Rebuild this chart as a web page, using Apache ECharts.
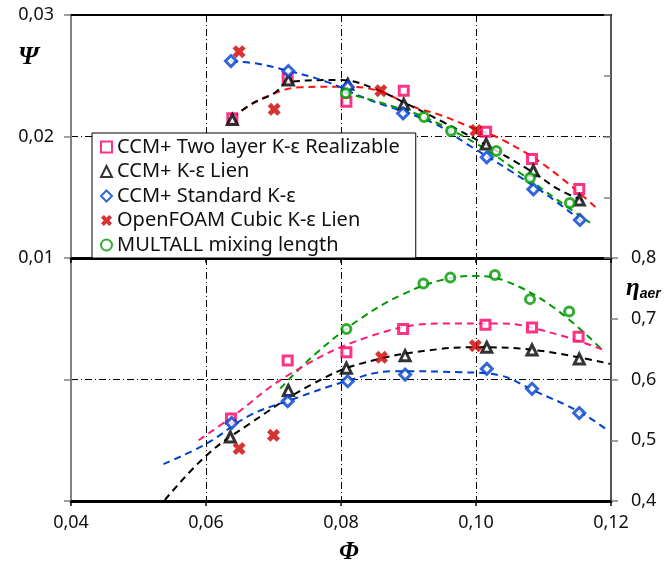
<!DOCTYPE html>
<html>
<head>
<meta charset="utf-8">
<script src="https://cdn.jsdelivr.net/npm/echarts@6/dist/echarts.min.js"></script>
<style>
  html, body { margin: 0; padding: 0; background: #fff; }
  #chart { width: 665px; height: 567px; }
</style>
</head>
<body>
<div id="chart"></div>
<script>
// legend names
const names = [
  'CCM+ Two layer K-ε Realizable',
  'CCM+ K-ε Lien',
  'CCM+ Standard K-ε',
  'OpenFOAM Cubic K-ε Lien',
  'MULTALL mixing length'
]

// head coefficient Psi, [Phi, Psi]
const psiTwoLayer = [[0.0639, 0.0215], [0.0721, 0.0248], [0.0808, 0.02286], [0.0893, 0.02377], [0.1015, 0.0204], [0.1083, 0.01815], [0.1153, 0.01568]]
const psiLien = [[0.0639, 0.0214], [0.0722, 0.02465], [0.0810, 0.0243], [0.0893, 0.02267], [0.1015, 0.01938], [0.1085, 0.01719], [0.1153, 0.01477]]
const psiStandard = [[0.0637, 0.02621], [0.0722, 0.02539], [0.0810, 0.02407], [0.0892, 0.02191], [0.1016, 0.01829], [0.1085, 0.01565], [0.1154, 0.01313]]
const psiOpenFoam = [[0.0649, 0.02698], [0.0701, 0.02224], [0.0859, 0.02377], [0.1000, 0.0205]]
const psiMultall = [[0.0807, 0.02356], [0.0923, 0.0216], [0.0963, 0.02045], [0.1030, 0.01881], [0.1080, 0.01658], [0.1139, 0.01453]]

// efficiency eta_aer, [Phi, eta]
const etaTwoLayer = [[0.0637, 0.5356], [0.0721, 0.6311], [0.0808, 0.6448], [0.0892, 0.6831], [0.1014, 0.6902], [0.1083, 0.6857], [0.1152, 0.6705]]
const etaLien = [[0.0636, 0.5054], [0.0722, 0.5820], [0.0808, 0.6186], [0.0895, 0.6393], [0.1016, 0.6530], [0.1083, 0.6487], [0.1153, 0.6339]]
const etaStandard = [[0.0638, 0.5284], [0.0721, 0.5644], [0.0810, 0.5972], [0.0895, 0.6082], [0.1016, 0.6175], [0.1083, 0.5847], [0.1153, 0.5448]]
const etaOpenFoam = [[0.0649, 0.4864], [0.0700, 0.5082], [0.0860, 0.6366], [0.0999, 0.6557]]
const etaMultall = [[0.0808, 0.6831], [0.0922, 0.7579], [0.0962, 0.7677], [0.1028, 0.7721], [0.1080, 0.7323], [0.1138, 0.7120]]

// trend lines
const psiFitRed = [[0.0639, 0.0215], [0.0655, 0.0222], [0.0690, 0.0233], [0.0739, 0.02405], [0.0800, 0.0241], [0.0853, 0.0238], [0.0907, 0.02245], [0.0947, 0.02177], [0.0991, 0.0208], [0.1040, 0.0197], [0.1105, 0.0175], [0.1179, 0.0141]]
const psiFitBlack = [[0.0639, 0.0215], [0.0665, 0.0226], [0.0702, 0.0236], [0.0722, 0.0245], [0.0800, 0.02465], [0.0847, 0.0240], [0.0897, 0.0227], [0.0951, 0.0212], [0.1015, 0.0193], [0.1083, 0.0171], [0.1124, 0.0156], [0.1164, 0.0146]]
const psiFitBlue = [[0.0637, 0.0262], [0.0675, 0.0260], [0.0722, 0.0254], [0.0779, 0.0245], [0.0838, 0.0231], [0.0937, 0.0211], [0.0986, 0.0194], [0.1050, 0.0172], [0.1110, 0.0150], [0.1159, 0.0129]]
const psiFitGreen = [[0.0805, 0.0236], [0.0870, 0.0226], [0.0923, 0.0216], [0.1001, 0.0194], [0.1060, 0.0172], [0.1120, 0.0148], [0.1169, 0.0129]]

const etaFitGreen = [[0.0710, 0.585], [0.0760, 0.640], [0.0828, 0.6995], [0.0892, 0.7405], [0.0950, 0.7640], [0.0996, 0.7705], [0.1044, 0.7620], [0.1115, 0.7185], [0.1186, 0.650]]
const etaFitPink = [[0.0589, 0.500], [0.0638, 0.538], [0.0721, 0.6066], [0.0838, 0.6693], [0.0952, 0.6923], [0.1036, 0.6923], [0.1115, 0.6759], [0.1189, 0.6487]]
const etaFitBlack = [[0.0539, 0.4016], [0.0601, 0.4754], [0.0665, 0.5274], [0.0754, 0.5902], [0.0828, 0.6257], [0.0947, 0.6503], [0.0999, 0.6530], [0.1085, 0.6487], [0.1199, 0.6257]]
const etaFitBlue = [[0.0537, 0.4607], [0.0601, 0.4946], [0.0665, 0.5410], [0.0724, 0.5656], [0.0808, 0.5972], [0.0877, 0.6136], [0.0976, 0.6120], [0.1036, 0.6066], [0.1085, 0.5820], [0.1154, 0.5464], [0.1195, 0.5164]]

const PINK = '#ff0066'
const RED = '#cc0000'
const BLUE = '#0040d0'
const GREEN = '#009900'
const CROSS = 'path://M2.6,0L5,2.4L7.4,0L10,2.6L7.6,5L10,7.4L7.4,10L5,7.6L2.6,10L0,7.4L2.4,5L0,2.6Z'
const dashDot = [7, 3, 1, 3]
const labelFont = { fontFamily: 'Noto Sans', fontSize: 18, color: '#111' }

// white-filled markers with thick outlines
const markerStyles = [
  { symbol: 'rect', symbolSize: 9, itemStyle: { color: '#fff', borderColor: PINK, borderWidth: 3 } },
  { symbol: 'triangle', symbolSize: 10, itemStyle: { color: '#fff', borderColor: '#000', borderWidth: 3 } },
  { symbol: 'diamond', symbolSize: 11, itemStyle: { color: '#fff', borderColor: BLUE, borderWidth: 3 } },
  { symbol: CROSS, symbolSize: 13, itemStyle: { color: RED } },
  { symbol: 'circle', symbolSize: 9, itemStyle: { color: '#fff', borderColor: GREEN, borderWidth: 3 } }
]

function markers(name, idx, data, xi, yi) {
  return Object.assign({
    name, type: 'scatter', data, xAxisIndex: xi, yAxisIndex: yi, z: 5
  }, markerStyles[idx])
}

function fit(name, data, color, xi, yi) {
  return {
    name, type: 'line', data, xAxisIndex: xi, yAxisIndex: yi,
    showSymbol: false, smooth: 0.4, silent: true, z: 3,
    lineStyle: { color, width: 2, type: [7, 5] }
  }
}

const xBase = {
  type: 'value', min: 0.04, max: 0.12, interval: 0.02,
  axisLine: { show: true, onZero: false, lineStyle: { color: '#000', width: 3 } },
  axisTick: { show: true, length: 5, lineStyle: { color: '#000', width: 1.5 } },
  splitLine: { show: true, lineStyle: { color: '#000', width: 1, type: dashDot } },
  axisLabel: { show: false }
}

const chart = echarts.init(document.getElementById('chart'))
chart.setOption({
  backgroundColor: '#fff',
  animation: false,
  grid: [
    { left: 71, right: 54, top: 15, height: 243 },
    { left: 71, right: 54, top: 258, height: 243 }
  ],
  legend: {
    data: names,
    orient: 'vertical',
    left: 92, top: 133,
    padding: [4, 16, 3, 8],
    itemGap: 4.5,
    itemWidth: 11, itemHeight: 11,
    backgroundColor: '#fff',
    borderColor: '#000', borderWidth: 1,
    textStyle: { fontFamily: 'Noto Sans', fontSize: 20, lineHeight: 20, color: '#111' }
  },
  xAxis: [
    Object.assign({}, xBase, { gridIndex: 0, position: 'bottom' }),
    Object.assign({}, xBase, {
      gridIndex: 1, position: 'bottom',
      axisLabel: Object.assign({ show: true, margin: 13, formatter: v => v.toFixed(2).replace('.', ',') }, labelFont)
    }),
    { type: 'value', gridIndex: 0, position: 'top', min: 0.04, max: 0.12,
      axisLine: { show: true, lineStyle: { color: '#000', width: 2 } },
      axisTick: { show: false }, axisLabel: { show: false }, splitLine: { show: false } }
  ],
  yAxis: [
    { type: 'value', gridIndex: 0, position: 'left', min: 0.01, max: 0.03, interval: 0.01,
      axisLine: { show: true, lineStyle: { color: '#808080', width: 2 } },
      axisTick: { show: true, length: 7, lineStyle: { color: '#808080', width: 1.5 } },
      splitLine: { show: true, lineStyle: { color: '#000', width: 1, type: dashDot } },
      axisLabel: Object.assign({ margin: 17, formatter: v => v.toFixed(2).replace('.', ',') }, labelFont) },
    { type: 'value', gridIndex: 0, position: 'right', min: 0.01, max: 0.03, interval: 0.005,
      axisLine: { show: true, lineStyle: { color: '#555', width: 2 } },
      axisTick: { show: true, inside: true, length: 7, lineStyle: { color: '#808080', width: 1.5 } },
      splitLine: { show: false }, axisLabel: { show: false } },
    { type: 'value', gridIndex: 1, position: 'right', min: 0.4, max: 0.8, interval: 0.1,
      axisLine: { show: true, lineStyle: { color: '#555', width: 2 } },
      axisTick: { show: true, length: 7, lineStyle: { color: '#808080', width: 1.5 } },
      splitLine: { show: false },
      axisLabel: Object.assign({ margin: 20, formatter: v => v.toFixed(1).replace('.', ',') }, labelFont) },
    { type: 'value', gridIndex: 1, position: 'left', min: 0.4, max: 0.8, interval: 0.2,
      axisLine: { show: true, lineStyle: { color: '#808080', width: 2 } },
      axisTick: { show: true, length: 7, lineStyle: { color: '#808080', width: 1.5 } },
      splitLine: { show: true, lineStyle: { color: '#000', width: 1, type: dashDot } },
      axisLabel: { show: false } }
  ],
  graphic: [
    { type: 'text', left: 18, top: 44, style: { text: 'Ψ', font: 'italic bold 26px "Liberation Serif"', fill: '#000' } },
    { type: 'text', left: 339, top: 540, style: { text: 'Φ', font: 'italic bold 25px "Liberation Serif"', fill: '#000' } },
    { type: 'text', left: 626, top: 276, style: {
      text: '{e|η}{s|aer}', fill: '#000',
      rich: {
        e: { font: 'italic bold 25px "Liberation Serif"', verticalAlign: 'bottom' },
        s: { font: 'italic bold 14px "Liberation Sans"', verticalAlign: 'bottom', padding: [10, 0, 0, 0] }
      } } }
  ],
  series: [
    fit('fitPsiRed', psiFitRed, '#ff1010', 0, 0),
    fit('fitPsiBlack', psiFitBlack, '#000', 0, 0),
    fit('fitPsiBlue', psiFitBlue, '#0040d0', 0, 0),
    fit('fitPsiGreen', psiFitGreen, '#009900', 0, 0),
    fit('fitEtaGreen', etaFitGreen, '#009900', 1, 2),
    fit('fitEtaPink', etaFitPink, '#ff1a75', 1, 2),
    fit('fitEtaBlack', etaFitBlack, '#000', 1, 2),
    fit('fitEtaBlue', etaFitBlue, '#0040d0', 1, 2),
    markers(names[0], 0, psiTwoLayer, 0, 0),
    markers(names[1], 1, psiLien, 0, 0),
    markers(names[2], 2, psiStandard, 0, 0),
    markers(names[3], 3, psiOpenFoam, 0, 0),
    markers(names[4], 4, psiMultall, 0, 0),
    markers(names[0], 0, etaTwoLayer, 1, 2),
    markers(names[1], 1, etaLien, 1, 2),
    markers(names[2], 2, etaStandard, 1, 2),
    markers(names[3], 3, etaOpenFoam, 1, 2),
    markers(names[4], 4, etaMultall, 1, 2)
  ]
})
</script>
</body>
</html>
